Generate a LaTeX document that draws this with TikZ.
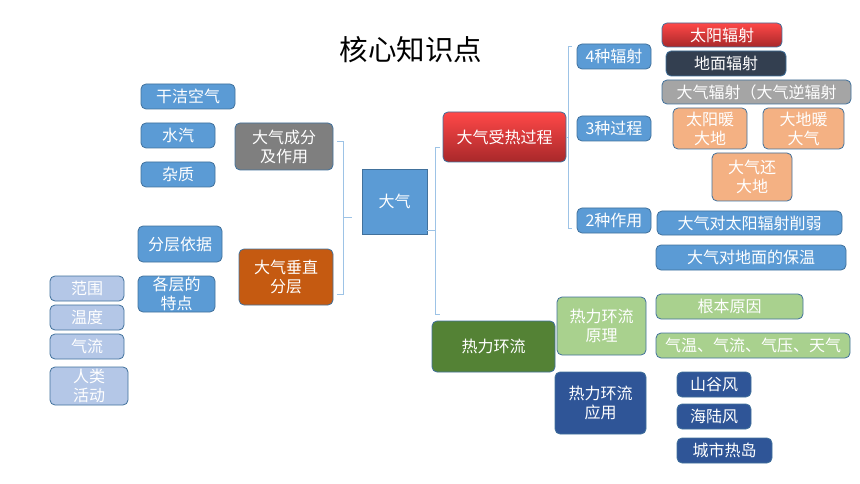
\documentclass[tikz,border=0pt]{standalone}
\usepackage{fontspec}
\usepackage{tikz}
\newfontfamily\cjk{Noto Sans CJK SC}
\definecolor{boxblue}{HTML}{5B9BD5}
\definecolor{edgeblue}{HTML}{41719C}
\definecolor{paleblue}{HTML}{B4C7E7}
\definecolor{brkblue}{HTML}{9DC3E6}
\definecolor{darkgray}{HTML}{7F7F7F}
\definecolor{lightgray}{HTML}{A5A5A5}
\definecolor{rust}{HTML}{C55A11}
\definecolor{navy}{HTML}{333F50}
\definecolor{peach}{HTML}{F4B183}
\definecolor{leaf}{HTML}{548235}
\definecolor{lightleaf}{HTML}{A9D18E}
\definecolor{deepblue}{HTML}{2F5597}
\definecolor{redtop}{HTML}{FF4848}
\definecolor{redbot}{HTML}{A8282A}

\begin{document}
\begin{tikzpicture}[x=1pt,y=-1pt,
    box/.style={draw=edgeblue, line width=0.8pt, rounded corners=5pt, text=white,
        font=\cjk\fontsize{16}{19}\selectfont, align=center, inner sep=0pt},
    redbox/.style={box, top color=redtop, bottom color=redbot},
    brk/.style={draw=brkblue, line width=0.8pt}]
    \useasboundingbox (0,0) rectangle (860,484);

    \node[font=\cjk\fontsize{28.5}{31}\selectfont] (title) at (411,50) {核心知识点};

    % centre
    \node[box, rounded corners=0pt, fill=boxblue, minimum width=65pt, minimum height=65pt] (dq) at (394.5,201.5) {大气};

    % left branch
    \node[box, fill=darkgray, minimum width=98pt, minimum height=47pt] (cf) at (284,146.5) {大气成分\\及作用};
    \node[box, fill=rust, minimum width=94pt, minimum height=56pt] (cz) at (286,277) {大气垂直\\分层};
    \node[box, fill=boxblue, minimum width=94pt, minimum height=25pt] (gj) at (188,96.5) {干洁空气};
    \node[box, fill=boxblue, minimum width=74pt, minimum height=25pt] (sq) at (178,135.5) {水汽};
    \node[box, fill=boxblue, minimum width=74pt, minimum height=25pt] (zz) at (178,174.5) {杂质};
    \node[box, fill=boxblue, minimum width=84pt, minimum height=36pt] (yj) at (180,244) {分层依据};
    \node[box, fill=boxblue, minimum width=77pt, minimum height=36pt] (td) at (176.5,294) {各层的\\特点};
    \node[box, fill=paleblue, minimum width=74pt, minimum height=25pt] (fw) at (87,288.5) {范围};
    \node[box, fill=paleblue, minimum width=74pt, minimum height=25pt] (wd) at (87,317.5) {温度};
    \node[box, fill=paleblue, minimum width=74pt, minimum height=25pt] (ql) at (87,346.5) {气流};
    \node[box, fill=paleblue, minimum width=78pt, minimum height=38pt] (rl) at (89,386) {人类\\活动};

    % right branch: heating
    \node[redbox, minimum width=123pt, minimum height=50pt] (sr) at (504.5,137) {大气受热过程};
    \node[box, fill=boxblue, minimum width=74pt, minimum height=25pt] (fs4) at (614,56.5) {4种辐射};
    \node[box, fill=boxblue, minimum width=74pt, minimum height=25pt] (gc3) at (614,128.5) {3种过程};
    \node[box, fill=boxblue, minimum width=74pt, minimum height=25pt] (zy2) at (614,220.5) {2种作用};
    \node[redbox, minimum width=120pt, minimum height=24pt] (tyfs) at (722,35) {太阳辐射};
    \node[box, fill=navy, minimum width=120pt, minimum height=25pt] (dmfs) at (726,63.5) {地面辐射};
    \node[box, fill=lightgray, minimum width=189pt, minimum height=24pt] (dqfs) at (756.5,92) {大气辐射（大气逆辐射};
    \node[box, fill=peach, minimum width=74pt, minimum height=41pt] (nd) at (710,128.5) {太阳暖\\大地};
    \node[box, fill=peach, minimum width=81pt, minimum height=41pt] (nq) at (803.5,128.5) {大地暖\\大气};
    \node[box, fill=peach, minimum width=80pt, minimum height=48pt] (hd) at (752,177) {大气还\\大地};
    \node[box, fill=boxblue, minimum width=185pt, minimum height=24pt] (xr) at (749.5,223) {大气对太阳辐射削弱};
    \node[box, fill=boxblue, minimum width=190pt, minimum height=25pt] (bw) at (751,257.5) {大气对地面的保温};

    % right branch: circulation
    \node[box, fill=leaf, minimum width=123pt, minimum height=51pt] (hl) at (493.5,346.5) {热力环流};
    \node[box, fill=lightleaf, minimum width=89pt, minimum height=58pt] (yl) at (601.5,326) {热力环流\\原理};
    \node[box, fill=deepblue, minimum width=91pt, minimum height=62pt] (yy) at (600.5,403) {热力环流\\应用};
    \node[box, fill=lightleaf, minimum width=147pt, minimum height=25pt] (yy1) at (729.5,306.5) {根本原因};
    \node[box, fill=lightleaf, minimum width=194pt, minimum height=25pt] (yy2) at (753,345.5) {气温、气流、气压、天气};
    \node[box, fill=deepblue, minimum width=74pt, minimum height=25pt] (sgf) at (714,384.5) {山谷风};
    \node[box, fill=deepblue, minimum width=74pt, minimum height=25pt] (hlf) at (714,416.5) {海陆风};
    \node[box, fill=deepblue, minimum width=95pt, minimum height=25pt] (rd) at (724.5,450.5) {城市热岛};

    % brackets
    \coordinate (lb) at (343,217.5);
    \coordinate (rb) at (435,230.5);
    \coordinate (sb) at (568,137);
    \draw[brk] (lb) ++(-6,-76.5) -- ++(6,0) -- ++(0,153) -- ++(-6,0);
    \draw[brk] (lb) -- ++(9,0);
    \draw[brk] (rb) ++(5,-83.5) -- ++(-5,0) -- ++(0,167) -- ++(5,0);
    \draw[brk] (rb) -- (rb -| dq.east);
    \draw[brk] (sb) ++(4,-91) -- ++(-4,0) -- ++(0,182) -- ++(4,0);
    \draw[brk] (sb) -- (sr.east);
\end{tikzpicture}
\end{document}
